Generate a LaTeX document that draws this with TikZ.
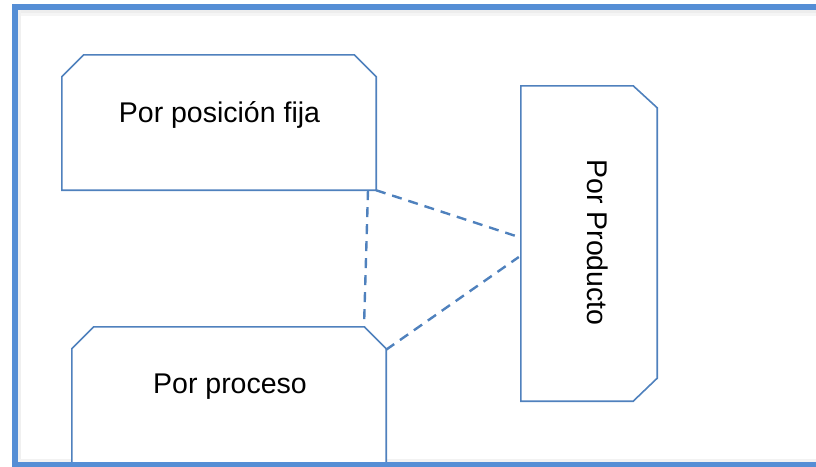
\documentclass[tikz,border=0pt]{standalone}
\usepackage{fontspec}
\setmainfont{Liberation Sans}
\usetikzlibrary{calc}
\definecolor{frameblue}{HTML}{558ED5}
\definecolor{boxblue}{HTML}{4F81BD}
\begin{document}
\begin{tikzpicture}[x=1pt,y=-1pt,
  boxarea/.style={rectangle, draw=none, inner sep=0pt},
  boxline/.style={draw=boxblue, line width=1.6pt, line join=miter, fill=white},
  lbl/.style={font=\fontsize{28.5}{33}\selectfont, inner sep=0pt},
  link/.style={draw=boxblue, line width=2.4pt, dash pattern=on 10pt off 7pt}]
\useasboundingbox (0,0) rectangle (816,466);

% soft inner shadow of the frame
\fill[black!7] (18,10) rectangle (816,13);
\fill[black!4] (18,13) rectangle (816,16);
\fill[black!6] (18,10) rectangle (21,462);
\fill[black!5] (18,459) rectangle (816,462);

% box areas
\node[boxarea, minimum width=314pt, minimum height=135pt] (fija) at (219,122.5) {};
\node[boxarea, minimum width=314pt, minimum height=141pt] (proc) at (229,397.5) {};
\node[boxarea, minimum width=136pt, minimum height=315pt] (prod) at (589,243.5) {};

% outlines, cut corners of 22pt
\draw[boxline] (fija.south west) -- ($(fija.north west)+(0,22)$)
  -- ($(fija.north west)+(22,0)$) -- ($(fija.north east)+(-22,0)$)
  -- ($(fija.north east)+(0,22)$) -- (fija.south east) -- cycle;
\draw[boxline] (proc.south west) -- ($(proc.north west)+(0,22)$)
  -- ($(proc.north west)+(22,0)$) -- ($(proc.north east)+(-22,0)$)
  -- ($(proc.north east)+(0,22)$) -- (proc.south east) -- cycle;
\draw[boxline] (prod.south west) -- (prod.north west)
  -- ($(prod.north east)+(-24,0)$) -- ($(prod.north east)+(0,22)$)
  -- ($(prod.south east)+(0,-23)$) -- ($(prod.south east)+(-24,0)$) -- cycle;

% labels
\node[lbl, anchor=base] (fijaT) at (219.5,122) {Por posición fija};
\node[lbl, anchor=base] (procT) at (230,393) {Por proceso};
\node[lbl, anchor=base, rotate=-90] (prodT) at (587,242.5) {Por Producto};

% dashed links
\draw[link] ($(fija.south)+(149,0)$) -- ($(proc.north)+(135,0)$);
\draw[link] ($(fija.south)+(157,0)$) -- ($(prod.west)+(-2,-6.5)$);
\draw[link] ($(proc.north)+(157,23)$) -- ($(prod.west)+(-2,13.5)$);

% outer frame
\draw[frameblue, line width=6pt] (15,7) rectangle (822,465);
\end{tikzpicture}
\end{document}
